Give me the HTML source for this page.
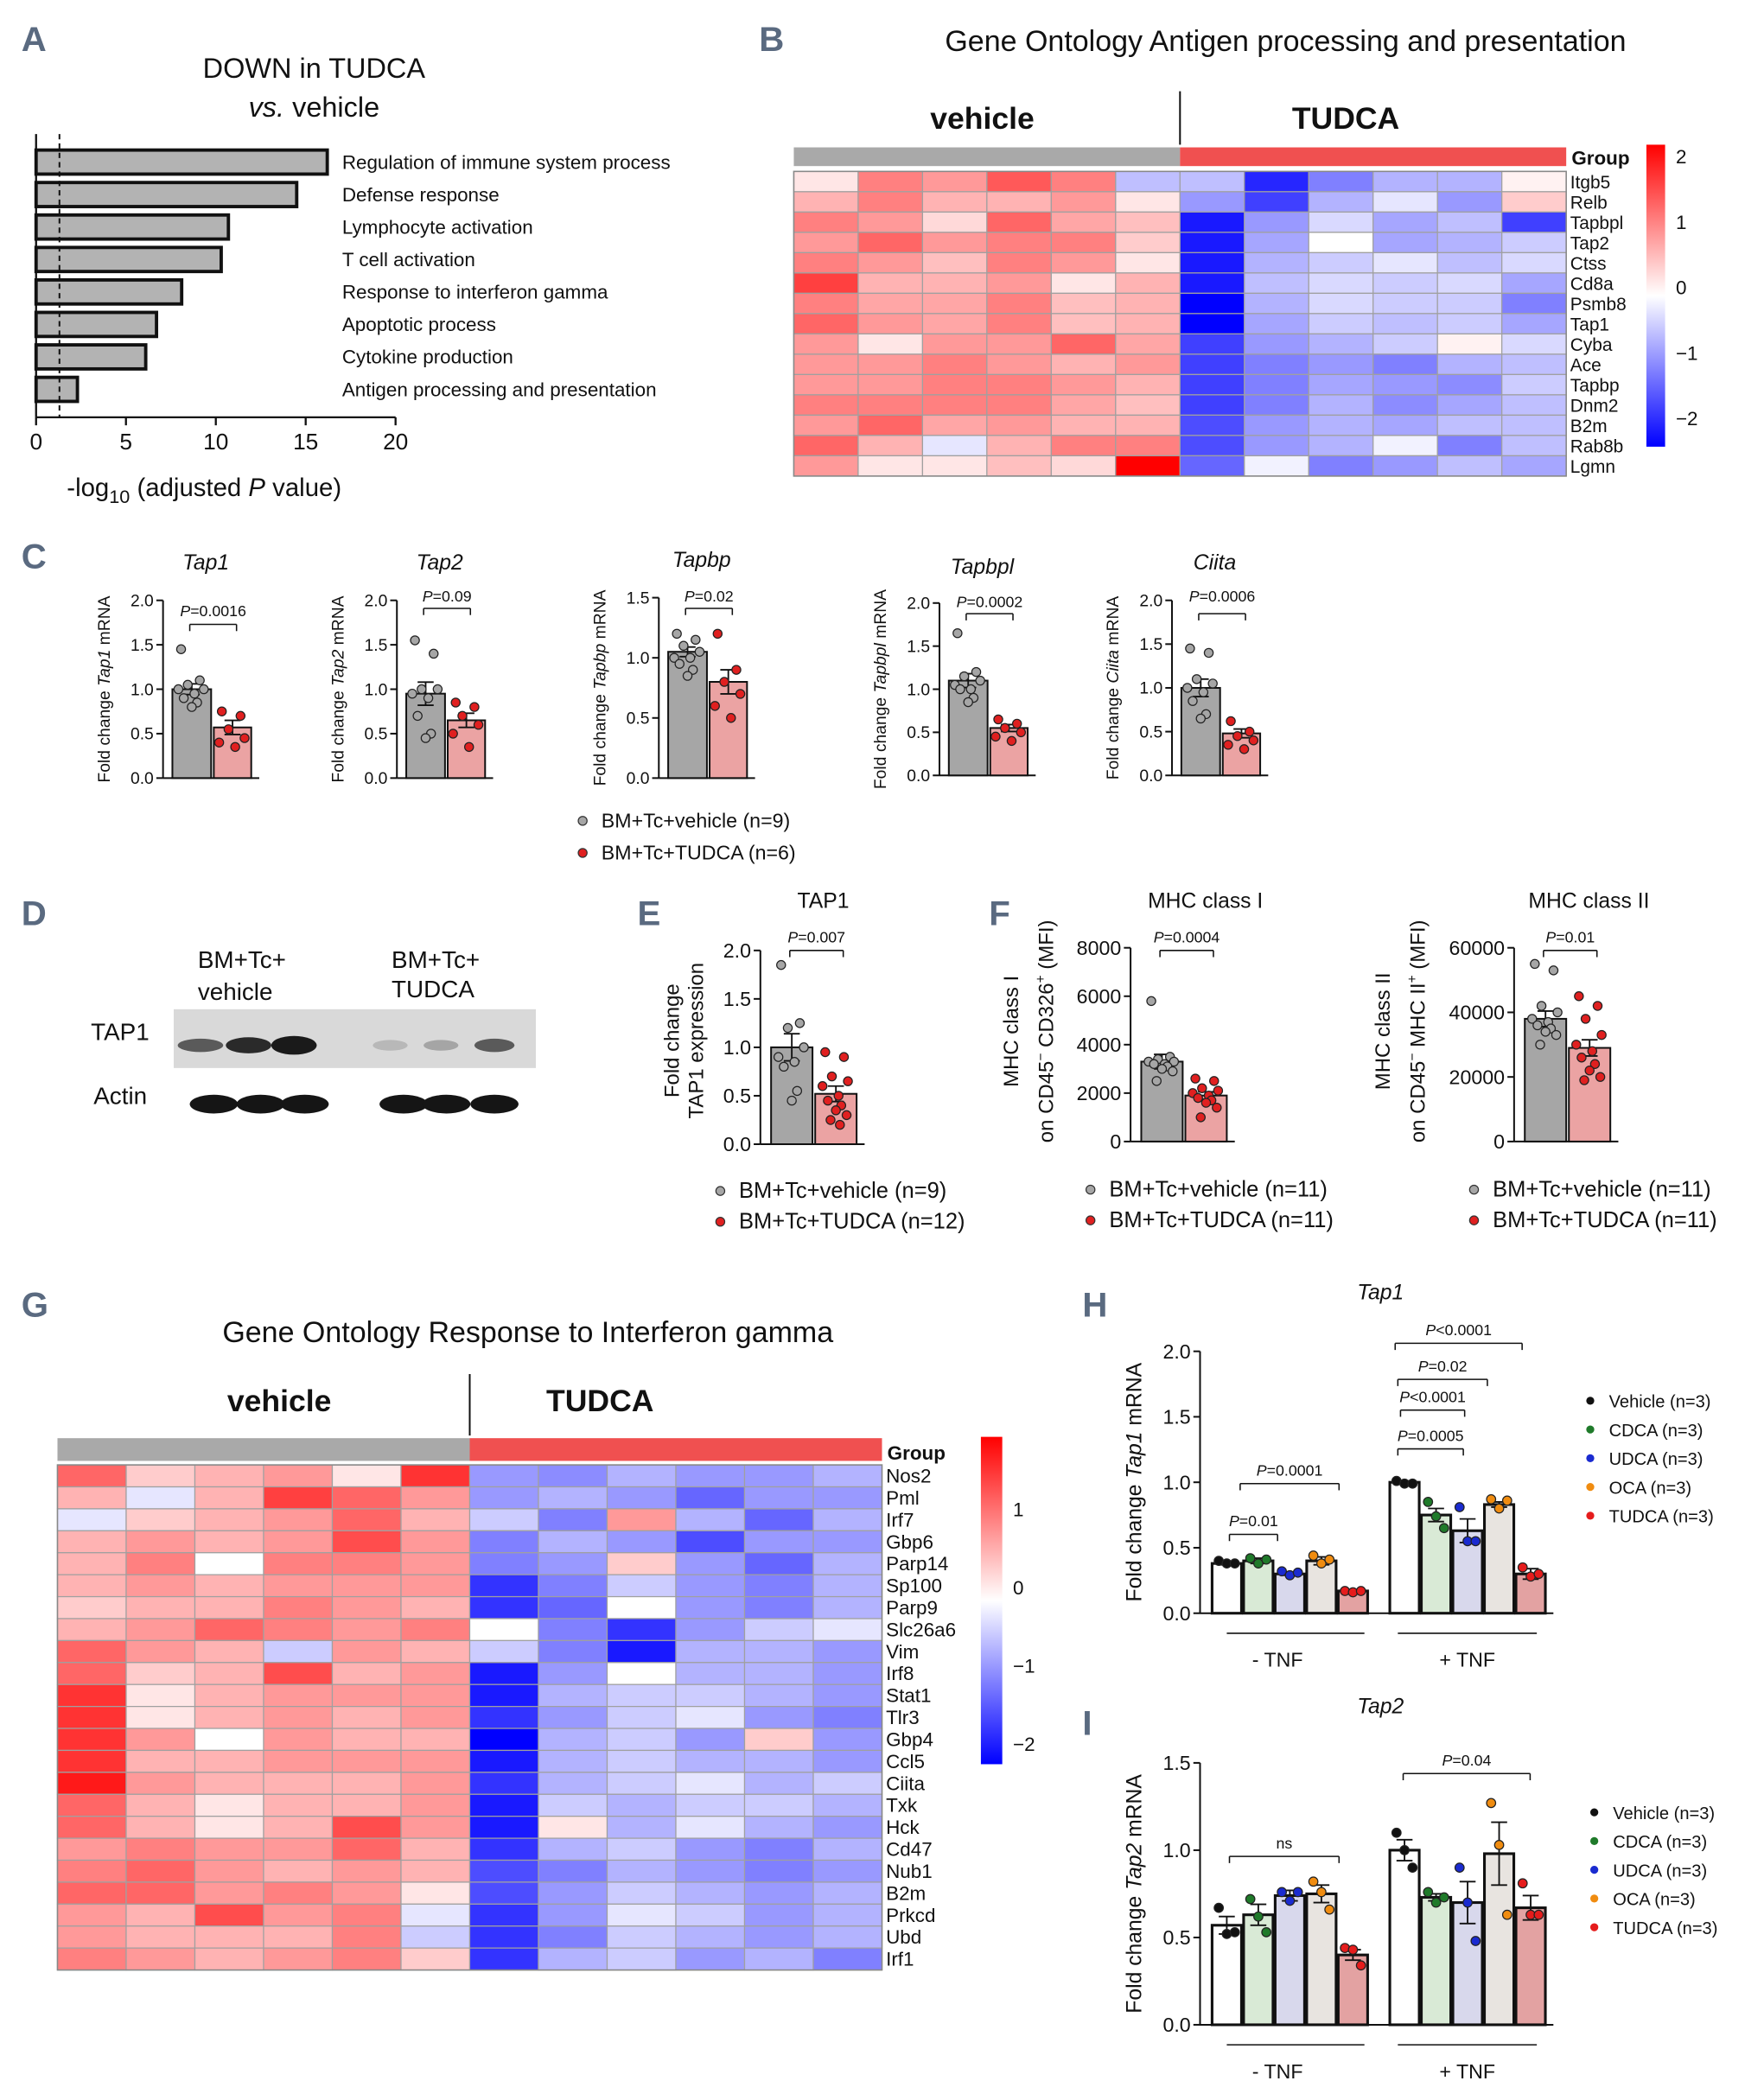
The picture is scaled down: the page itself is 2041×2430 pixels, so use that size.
<!DOCTYPE html>
<html><head><meta charset="utf-8"><title>Figure</title>
<style>
html,body{margin:0;padding:0;background:#fff;}
svg{display:block;font-family:"Liberation Sans",Arial,sans-serif;}
</style></head>
<body>
<svg id="fig" xmlns="http://www.w3.org/2000/svg" width="2041" height="2430" viewBox="0 0 1320 1571">
<rect x="0" y="0" width="1320" height="1571" fill="#fff"/>
</svg>
<script>
// ---------- DATA ----------
const goTerms=["Regulation of immune system process","Defense response","Lymphocyte activation","T cell activation","Response to interferon gamma","Apoptotic process","Cytokine production","Antigen processing and presentation"];
const goValues=[16.2,14.5,10.7,10.3,8.1,6.7,6.1,2.3];
const goTicks=[0,5,10,15,20];
const goThreshold=1.3;

const genesB=["Itgb5","Relb","Tapbpl","Tap2","Ctss","Cd8a","Psmb8","Tap1","Cyba","Ace","Tapbp","Dnm2","B2m","Rab8b","Lgmn"];
const heatB=[
[0.2,1.0,0.8,1.3,1.0,-0.5,-0.5,-1.7,-1.0,-0.6,-0.6,0.1],
[0.6,1.0,0.6,0.6,0.8,0.2,-0.8,-1.5,-0.6,-0.2,-0.8,0.4],
[1.0,0.8,0.3,1.2,0.7,0.5,-1.8,-0.8,-0.3,-0.7,-0.5,-1.5],
[0.8,1.2,0.8,1.0,1.0,0.4,-1.8,-0.7,0.0,-0.7,-0.6,-0.4],
[1.0,0.8,0.5,1.0,0.8,0.2,-1.8,-0.6,-0.4,-0.2,-0.5,-0.3],
[1.5,0.6,0.6,0.8,0.2,0.6,-1.8,-0.5,-0.3,-0.4,-0.3,-0.7],
[1.0,0.7,0.7,1.0,0.5,0.6,-2.0,-0.6,-0.3,-0.4,-0.4,-1.0],
[1.2,0.8,0.7,1.0,0.5,0.6,-2.0,-0.7,-0.4,-0.5,-0.4,-0.7],
[0.8,0.2,0.8,0.8,1.2,0.7,-1.5,-0.8,-0.6,-0.4,0.1,-0.3],
[0.8,0.8,1.0,0.8,0.6,0.8,-1.5,-1.0,-0.8,-1.0,-0.6,-0.5],
[0.8,0.8,1.0,1.0,0.8,0.6,-1.5,-1.0,-0.7,-0.8,-0.9,-0.4],
[1.0,1.0,1.0,1.0,0.7,0.5,-1.5,-1.0,-0.6,-0.9,-0.7,-0.5],
[0.8,1.2,0.7,0.8,0.6,0.6,-1.4,-0.8,-0.6,-0.7,-0.5,-0.5],
[1.2,0.6,-0.2,0.6,1.0,1.0,-1.4,-0.8,-0.6,-0.1,-1.0,-0.5],
[0.8,0.2,0.2,0.5,0.3,2.2,-1.2,-0.1,-1.0,-0.8,-0.5,-0.7]];
const scaleTicksB=[2,1,0,-1,-2];

const genesG=["Nos2","Pml","Irf7","Gbp6","Parp14","Sp100","Parp9","Slc26a6","Vim","Irf8","Stat1","Tlr3","Gbp4","Ccl5","Ciita","Txk","Hck","Cd47","Nub1","B2m","Prkcd","Ubd","Irf1"];
const heatG=[
[1.2,0.4,0.6,0.8,0.2,1.6,-0.8,-0.9,-0.6,-0.8,-0.8,-0.6],
[0.6,-0.2,0.6,1.5,1.2,0.8,-0.8,-0.6,-0.8,-1.2,-0.8,-0.8],
[-0.2,0.4,0.6,0.8,1.2,0.6,-0.4,-1.0,0.8,-0.6,-1.2,-0.6],
[0.6,0.8,0.6,0.8,1.4,0.8,-1.0,-0.6,-0.8,-1.4,-0.8,-0.8],
[0.6,1.0,0.0,1.0,1.0,0.8,-1.0,-0.8,0.4,-0.8,-1.2,-0.6],
[0.6,0.8,0.6,0.8,0.8,0.8,-1.6,-1.0,-0.4,-0.8,-1.0,-0.6],
[0.4,0.6,0.6,1.0,0.8,0.6,-1.6,-1.2,0.0,-0.8,-1.0,-0.6],
[0.6,0.8,1.2,1.0,0.8,1.0,0.0,-1.0,-1.6,-0.8,-0.4,-0.2],
[1.2,0.8,0.6,-0.4,0.8,0.6,-0.4,-1.0,-1.8,-0.6,-0.6,-0.8],
[1.2,0.4,0.6,1.4,0.6,0.8,-1.8,-0.8,0.0,-0.6,-0.6,-0.8],
[1.6,0.2,0.6,0.8,0.8,0.8,-1.8,-0.6,-0.4,-0.4,-0.6,-0.8],
[1.6,0.2,0.6,0.8,0.6,0.8,-1.6,-0.8,-0.4,-0.2,-0.8,-1.0],
[1.6,0.8,0.0,0.8,0.6,0.6,-2.0,-0.6,-0.4,-0.8,0.4,-0.8],
[1.6,0.6,0.6,0.8,0.8,0.8,-1.8,-0.6,-0.4,-0.6,-0.6,-0.8],
[1.8,0.8,0.6,0.6,0.6,0.8,-1.6,-0.6,-0.4,-0.2,-0.6,-0.4],
[1.2,0.6,0.2,0.6,0.6,0.8,-1.8,-0.4,-0.6,-0.4,-0.4,-0.6],
[1.2,0.6,0.2,0.6,1.4,0.8,-1.8,0.2,-0.6,-0.2,-0.6,-0.8],
[0.8,1.0,0.8,0.8,1.2,0.6,-1.6,-0.6,-0.4,-0.8,-1.0,-0.6],
[1.0,1.2,0.8,0.6,0.8,0.6,-1.4,-1.0,-0.6,-0.8,-1.0,-0.8],
[1.2,1.2,0.8,1.0,0.8,0.2,-1.4,-0.8,-0.4,-0.6,-0.8,-0.6],
[0.8,0.6,1.4,0.8,1.0,-0.2,-1.6,-0.8,-0.2,-0.4,-0.8,-0.6],
[0.8,0.6,0.6,0.6,1.0,-0.4,-1.6,-1.0,-0.4,-0.6,-0.8,-0.6],
[1.0,0.8,0.6,0.8,1.0,0.4,-1.6,-0.6,-0.4,-0.8,-0.6,-1.0]];
const scaleTicksG=[1,0,-1,-2];

// Panel C
const cTitles=["Tap1","Tap2","Tapbp","Tapbpl","Ciita"];
const cMeans=[[1.0,0.57],[0.95,0.65],[1.05,0.8],[1.1,0.55],[1.0,0.48]];
const cErrs=[[0.06,0.08],[0.13,0.08],[0.04,0.1],[0.08,0.04],[0.1,0.05]];
const cPvals=["P=0.0016","P=0.09","P=0.02","P=0.0002","P=0.0006"];
const cMax=[2.0,2.0,1.5,2.0,2.0];
const cDotsGray=[[1.45,1.1,1.05,1.0,1.0,0.95,0.9,0.85,0.8],[1.55,1.4,1.0,1.0,0.95,0.9,0.7,0.5,0.45],[1.2,1.15,1.1,1.05,1.0,1.0,0.95,0.9,0.85],[1.65,1.2,1.15,1.1,1.05,1.0,1.0,0.9,0.85],[1.45,1.4,1.1,1.05,1.0,0.95,0.85,0.7,0.65]];
const cDotsRed=[[0.75,0.7,0.55,0.45,0.4,0.35],[0.85,0.8,0.7,0.6,0.5,0.35],[1.2,0.9,0.8,0.7,0.6,0.5],[0.65,0.6,0.55,0.5,0.45,0.4],[0.62,0.5,0.45,0.4,0.35,0.3]];

// Panel E/F
const efTitles=["TAP1","MHC class I","MHC class II"];
const efMeans=[[1.0,0.52],[3300,1900],[38000,29000]];
const efErrs=[[0.14,0.08],[300,150],[2400,2500]];
const efPvals=["P=0.007","P=0.0004","P=0.01"];
const efDotsGray=[[1.85,1.25,1.2,1.0,0.9,0.85,0.8,0.55,0.45],[5800,3500,3400,3300,3300,3200,3200,3100,3000,2900,2500],[55000,53000,42000,40000,38000,37000,36000,35000,34000,33000,30000]];
const efDotsRed=[[0.95,0.9,0.7,0.65,0.6,0.5,0.45,0.4,0.35,0.3,0.25,0.2],[2600,2500,2200,2100,2000,1900,1800,1700,1600,1400,1000],[45000,42000,38000,33000,30000,28000,26000,24000,22000,20000,19000]];
const efTicks=[["0.0","0.5","1.0","1.5","2.0"],["0","2000","4000","6000","8000"],["0","20000","40000","60000"]];
const efTickVals=[[0,0.5,1,1.5,2],[0,2000,4000,6000,8000],[0,20000,40000,60000]];

// Panel H / I
const treatments=["Vehicle (n=3)","CDCA (n=3)","UDCA (n=3)","OCA (n=3)","TUDCA (n=3)"];
const hMinus=[0.38,0.4,0.3,0.4,0.17];
const hPlus=[1.0,0.75,0.63,0.83,0.3];
const hErrMinus=[0.01,0.02,0.01,0.03,0.005];
const hErrPlus=[0.01,0.05,0.09,0.02,0.04];
const hDotsMinus=[[0.4,0.38,0.38],[0.42,0.38,0.41],[0.32,0.29,0.31],[0.44,0.38,0.41],[0.17,0.16,0.17]];
const hDotsPlus=[[1.01,0.99,0.99],[0.85,0.74,0.65],[0.81,0.55,0.55],[0.87,0.8,0.86],[0.35,0.28,0.3]];
const iMinus=[0.57,0.63,0.74,0.75,0.4];
const iPlus=[1.0,0.73,0.7,0.98,0.67];
const iErrMinus=[0.05,0.06,0.03,0.05,0.03];
const iErrPlus=[0.06,0.02,0.12,0.18,0.07];
const iDotsMinus=[[0.67,0.52,0.53],[0.72,0.62,0.53],[0.76,0.71,0.76],[0.82,0.76,0.66],[0.44,0.43,0.34]];
const iDotsPlus=[[1.1,1.0,0.9],[0.76,0.7,0.73],[0.9,0.7,0.48],[1.27,1.03,0.63],[0.81,0.63,0.63]];

// ---------- HELPERS ----------
const NS='http://www.w3.org/2000/svg';
const svg=document.getElementById('fig');
function mk(tag,attrs,parent){const e=document.createElementNS(NS,tag);for(const k in attrs)e.setAttribute(k,attrs[k]);(parent||svg).appendChild(e);return e;}
function T(x,y,s,size,extra,parent){const e=mk('text',Object.assign({x:x,y:y,'font-size':size,fill:'#111'},extra||{}),parent);e.textContent=s;return e;}
function heatColor(v){const t=Math.min(1,Math.abs(v)/2);const c=Math.round(255*(1-t));return v>=0?`rgb(255,${c},${c})`:`rgb(${c},${c},255)`;}
function line(x1,y1,x2,y2,w,parent,col){return mk('line',{x1,y1,x2,y2,stroke:col||'#111','stroke-width':w||1},parent);}
const jit=[-8,6,-3,9,-10,2,-6,4,0,8,-4,3];

// Panel letters
[["A",16,38],["B",568,38],["C",16,425],["D",16,692],["E",477,692],["F",740,692],["G",16,985],["H",810,985],["I",810,1298]].forEach(p=>{
 const t=T(p[1],p[2],p[0],26,{'font-weight':'bold',fill:'#5a6a80'});
 
 
});

// ---------- PANEL A ----------
(function(){
 const g=mk('g',{});
 
 
 const x0=27,pxU=13.45,yTop=100,yBase=312;
 const xs=v=>x0+v*pxU;
 T(235,58,"DOWN in TUDCA",21,{'text-anchor':'middle'},g);
 const t2=T(235,87,"",21,{'text-anchor':'middle'},g);
 t2.innerHTML='<tspan font-style="italic">vs.</tspan> vehicle';
 goValues.forEach((v,i)=>{
  const cy=121+i*24.3;
  const r=mk('rect',{x:x0,y:cy-9,width:xs(v)-x0,height:18,fill:'#b3b3b3',stroke:'#111','stroke-width':2.5},g);
  
  
  const l=T(256,cy+5,goTerms[i],14.5,{},g);
  
  
 });
 line(x0,yTop,x0,yBase,1.5,g);
 line(x0,yBase,xs(20),yBase,1.5,g);
 const d=mk('line',{x1:xs(goThreshold),y1:yTop,x2:xs(goThreshold),y2:yBase,stroke:'#111','stroke-width':1.3,'stroke-dasharray':'4,3'},g);
 
 
 goTicks.forEach(t=>{line(xs(t),yBase,xs(t),yBase+6,1.5,g);const l=T(xs(t),yBase+24,String(t),17,{'text-anchor':'middle'},g);});
 const xl=T(50,371,"",19,{},g);
 xl.innerHTML='-log<tspan font-size="14" dy="5">10</tspan><tspan dy="-5"> (adjusted </tspan><tspan font-style="italic">P</tspan> value)';
 
 
})();

// ---------- HEATMAP ----------
function heatmap(cfg){
 const g=mk('g',{});
 
 
 T(cfg.titleX,cfg.titleY,cfg.title,22,{'text-anchor':'middle'},g);
 const cw=(cfg.x1-cfg.x0)/12, rh=(cfg.y1-cfg.y0)/cfg.genes.length, xm=cfg.x0+6*cw;
 T(cfg.vehX,cfg.labY,"vehicle",23,{'text-anchor':'middle','font-weight':'bold'},g);
 T(cfg.tudX,cfg.labY,"TUDCA",23,{'text-anchor':'middle','font-weight':'bold'},g);
 line(xm,cfg.labY-28,xm,cfg.gy-2,1.3,g);
 const gv=mk('rect',{x:cfg.x0,y:cfg.gy,width:xm-cfg.x0,height:cfg.gh,fill:'#a9a9a9'},g);
 
 
 const gt=mk('rect',{x:xm,y:cfg.gy,width:cfg.x1-xm,height:cfg.gh,fill:'#f05050'},g);
 
 
 T(cfg.x1+4,cfg.gy+cfg.gh-1,"Group",14.5,{'font-weight':'bold'},g);
 cfg.data.forEach((row,r)=>{
  row.forEach((v,c)=>{
   const cell=mk('rect',{x:cfg.x0+c*cw,y:cfg.y0+r*rh,width:cw,height:rh,fill:heatColor(v),stroke:'#a0a0a0','stroke-width':0.8},g);
   
   
  });
  const gl=T(cfg.x1+3,cfg.y0+r*rh+rh/2+5,cfg.genes[r],cfg.fs,{},g);
  
  
 });
 mk('rect',{x:cfg.x0,y:cfg.y0,width:cfg.x1-cfg.x0,height:cfg.y1-cfg.y0,fill:'none',stroke:'#888','stroke-width':1},g);
 const gradId=cfg.name+'-grad';
 const defs=mk('defs',{},g);
 const lg=mk('linearGradient',{id:gradId,x1:0,y1:0,x2:0,y2:1},defs);
 [[0,'#ff0000'],[0.5,'#ffffff'],[1,'#0000ff']].forEach(s=>mk('stop',{offset:s[0],'stop-color':s[1]},lg));
 const sb=mk('rect',{x:cfg.sx,y:cfg.sy0,width:cfg.sw,height:cfg.sy1-cfg.sy0,fill:`url(#${gradId})`},g);
 
 
 cfg.ticks.forEach(t=>{
  const y=cfg.zeroY-t*cfg.unitPx;
  const tl=T(cfg.sx+cfg.sw+8,y+5,t<0?'\u2212'+Math.abs(t):String(t),14.5,{},g);
  
  
 });
}
heatmap({name:'panel-b-heatmap',title:'Gene Ontology Antigen processing and presentation',titleX:962,titleY:38,labY:96,vehX:735,tudX:1007,x0:594,x1:1172,y0:128,y1:356,gy:110,gh:14,genes:genesB,data:heatB,fs:13.5,sx:1232,sw:14,sy0:108,sy1:334,zeroY:215,unitPx:49,ticks:scaleTicksB});
heatmap({name:'panel-g-heatmap',title:'Gene Ontology Response to Interferon gamma',titleX:395,titleY:1004,labY:1056,vehX:209,tudX:449,x0:43,x1:660,y0:1096,y1:1474,gy:1076,gh:17,genes:genesG,data:heatG,fs:14.5,sx:734,sw:16,sy0:1075,sy1:1320,zeroY:1188,unitPx:58.5,ticks:scaleTicksG});

// ---------- DOT BAR CHART ----------
function dotBar(cfg){
 const g=mk('g',{});
 
 
 const ys=v=>cfg.y0-(v/cfg.max)*(cfg.y0-cfg.yTop);
 line(cfg.ax,cfg.yTop,cfg.ax,cfg.y0,1.3,g);
 line(cfg.ax,cfg.y0,cfg.bars[cfg.bars.length-1].x1+6,cfg.y0,1.3,g);
 cfg.tickVals.forEach((tv,i)=>{
  line(cfg.ax-5,ys(tv),cfg.ax,ys(tv),1.3,g);
  const tl=T(cfg.ax-7,ys(tv)+cfg.tfs*0.35,cfg.tickLabels[i],cfg.tfs,{'text-anchor':'end'},g);
  
  
 });
 cfg.bars.forEach((b,bi)=>{
  const r=mk('rect',{x:b.x0,y:ys(b.val),width:b.x1-b.x0,height:cfg.y0-ys(b.val),fill:b.fill,stroke:'#111','stroke-width':cfg.bw||1.3},g);
  
  
  const cx=(b.x0+b.x1)/2;
  line(cx,ys(b.val-b.err),cx,ys(b.val+b.err),1.2,g);
  line(cx-6,ys(b.val+b.err),cx+6,ys(b.val+b.err),1.2,g);
  line(cx-6,ys(b.val-b.err),cx+6,ys(b.val-b.err),1.2,g);
  b.dots.forEach((d,di)=>{
   const jj=cfg.small?[-6,0,6][di%3]:jit[di%jit.length];
   const c=mk('circle',{cx:cx+jj,cy:ys(d),r:cfg.dr||3.3,fill:b.dot,stroke:'#222','stroke-width':0.8},g);
   
   
  });
 });
 (cfg.sigs||[]).forEach(s=>{
  line(s.x0,s.y,s.x1,s.y,1,g);line(s.x0,s.y,s.x0,s.y+5,1,g);line(s.x1,s.y,s.x1,s.y+5,1,g);
  const st=T((s.x0+s.x1)/2,s.ly||s.y-6,'',cfg.pfs||11.5,{'text-anchor':'middle'},g);
  if(s.label.startsWith('P')) st.innerHTML='<tspan font-style="italic">P</tspan>'+s.label.slice(1); else st.textContent=s.label;
  
  
 });
 if(cfg.title){const tt=T(cfg.titleX,cfg.titleY,cfg.title,16,{'text-anchor':'middle','font-style':cfg.titleItalic?'italic':'normal'},g);}
 if(cfg.ylabel){const yl=T(0,0,'',cfg.yfs||12.5,{'text-anchor':'middle',transform:`translate(${cfg.ylx},${(cfg.yTop+cfg.y0)/2}) rotate(-90)`},g);yl.innerHTML=cfg.ylabel;}
 return g;
}

// Panel C
const cAx=[122,297,493,703,877];
const cY0=[582,582,582,580,580];
const cYT=[449,449,447,451,449];
const cSigY=[467,455,455,459,459];
const cSigLY=[461,450,450,454,450];
cTitles.forEach((t,i)=>{
 const ax=cAx[i];
 const tv=cMax[i]===2?[0,0.5,1,1.5,2]:[0,0.5,1,1.5];
 dotBar({name:'panel-c-'+t.toLowerCase(),ax:ax,y0:cY0[i],yTop:cYT[i],max:cMax[i],tickVals:tv,tickLabels:tv.map(v=>v.toFixed(1)),tfs:12.5,
  bars:[{x0:ax+7,x1:ax+36,val:cMeans[i][0],err:cErrs[i][0],fill:'#a6a6a6',dot:'#a6a6a6',dots:cDotsGray[i]},
        {x0:ax+38,x1:ax+66,val:cMeans[i][1],err:cErrs[i][1],fill:'#eba3a3',dot:'#e02020',dots:cDotsRed[i]}],
  sigs:[{x0:ax+20,x1:ax+55,y:cSigY[i],ly:cSigLY[i],label:cPvals[i]}],pfs:11.5,
  title:t,titleX:ax+32,titleY:i===3?429:i===2?424:426,titleItalic:true,
  ylabel:`Fold change <tspan font-style="italic">${t}</tspan> mRNA`,ylx:ax-40,yfs:12.5});
});
function legend2(x,y,a,b,fs,gap,name){
 const g=mk('g',{});
 
 
 mk('circle',{cx:x,cy:y,r:3.3,fill:'#a6a6a6',stroke:'#333','stroke-width':0.8},g);
 T(x+14,y+5,a,fs,{},g);
 mk('circle',{cx:x,cy:y+gap,r:3.3,fill:'#e02020',stroke:'#333','stroke-width':0.8},g);
 T(x+14,y+gap+5,b,fs,{},g);
}
legend2(436,614,"BM+Tc+vehicle (n=9)","BM+Tc+TUDCA (n=6)",15,24,'panel-c-legend');

// Panel D (western blot)
(function(){
 const g=mk('g',{});
 
 
 T(148,724,"BM+Tc+",18,{},g);T(148,748,"vehicle",18,{},g);
 T(293,724,"BM+Tc+",18,{},g);T(293,746,"TUDCA",18,{},g);
 T(68,778,"TAP1",18,{},g);T(70,826,"Actin",18,{},g);
 const bg=mk('rect',{x:130,y:755,width:271,height:44,fill:'#d9d9d9'},g);
 
 
 [[150,34,5,'#5a5a5a'],[186,34,6,'#2a2a2a'],[220,34,7,'#1a1a1a'],[292,26,4,'#b8b8b8'],[330,26,4,'#a5a5a5'],[370,30,5,'#5a5a5a']].forEach(b=>{
  const e=mk('ellipse',{cx:b[0],cy:782,rx:b[1]/2,ry:b[2],fill:b[3]},g);
  
  
 });
 [160,195,228,302,334,370].forEach(x=>{
  const e=mk('ellipse',{cx:x,cy:826,rx:18,ry:7,fill:'#151515'},g);
  
  
 });
})();

// Panel E/F
const efAx=[569,846,1133];
const efY0=[856,854,854];
const efYT=[711,709,709];
const efMax=[2,8000,60000];
const efYlab=[
 ['Fold change','TAP1 expression'],
 ['MHC class  I','on CD45<tspan font-size="10" dy="-6">\u2212</tspan><tspan dy="6"> CD326</tspan><tspan font-size="10" dy="-6">+</tspan><tspan dy="6"> (MFI)</tspan>'],
 ['MHC class  II','on CD45<tspan font-size="10" dy="-6">\u2212</tspan><tspan dy="6"> MHC II</tspan><tspan font-size="10" dy="-6">+</tspan><tspan dy="6"> (MFI)</tspan>']];
const efYlx=[[508,526],[762,788],[1040,1066]];
efTitles.forEach((t,i)=>{
 const ax=efAx[i];
 dotBar({name:'panel-'+(i===0?'e':'f')+'-'+t.toLowerCase().replace(/ /g,'-'),ax:ax,y0:efY0[i],yTop:efYT[i],max:efMax[i],tickVals:efTickVals[i],tickLabels:efTicks[i],tfs:15,
  bars:[{x0:ax+8,x1:ax+39,val:efMeans[i][0],err:efErrs[i][0],fill:'#a6a6a6',dot:'#a6a6a6',dots:efDotsGray[i]},
        {x0:ax+41,x1:ax+72,val:efMeans[i][1],err:efErrs[i][1],fill:'#eba3a3',dot:'#e02020',dots:efDotsRed[i]}],
  sigs:[{x0:ax+22,x1:ax+62,y:711,label:efPvals[i]}],pfs:11.5,
  title:t,titleX:ax+(i===0?47:56),titleY:679,titleItalic:false});
 efYlab[i].forEach((lab,k)=>{
  const yl=T(0,0,'',15.5,{'text-anchor':'middle',transform:`translate(${efYlx[i][k]},${(efYT[i]+efY0[i])/2+(i===0?-5:-10)}) rotate(-90)`});
  yl.innerHTML=lab;
  
  
 });
});
legend2(539,891,"BM+Tc+vehicle (n=9)","BM+Tc+TUDCA (n=12)",16.5,23,'panel-e-legend');
legend2(816,890,"BM+Tc+vehicle (n=11)","BM+Tc+TUDCA (n=11)",16.5,23,'panel-f-mhc1-legend');
legend2(1103,890,"BM+Tc+vehicle (n=11)","BM+Tc+TUDCA (n=11)",16.5,23,'panel-f-mhc2-legend');

// Panel H / I
const hFills=['#ffffff','#d9ead6','#d8d8ec','#e8e4e0','#e3a2a2'];
const hDotC=['#111','#1f7a2a','#1a2bd0','#f08c10','#e51c1c'];
function groupPanel(name,title,ax,y0,yTop,max,ticks,minus,plus,eM,eP,dM,dP,sigs,titleY,lx){
 const bars=[];
 for(let k=0;k<5;k++) bars.push({x0:ax+9+k*23.6,x1:ax+9+k*23.6+22,val:minus[k],err:eM[k],fill:hFills[k],dot:hDotC[k],dots:dM[k]});
 for(let k=0;k<5;k++) bars.push({x0:ax+142+k*23.6,x1:ax+142+k*23.6+22,val:plus[k],err:eP[k],fill:hFills[k],dot:hDotC[k],dots:dP[k]});
 const g=dotBar({name:name,ax:ax,y0:y0,yTop:yTop,max:max,tickVals:ticks,tickLabels:ticks.map(v=>v.toFixed(1)),tfs:15,bars:bars,bw:2,small:true,dr:3.4,
  sigs:sigs,pfs:11.5,title:title,titleX:ax+135,titleY:titleY,titleItalic:true,
  ylabel:`Fold change <tspan font-style="italic">${title}</tspan> mRNA`,ylx:ax-44,yfs:16});
 line(ax+20,y0+15,ax+123,y0+15,1,g);line(ax+148,y0+15,ax+252,y0+15,1,g);
 T(ax+58,y0+40,"- TNF",15,{'text-anchor':'middle'},g);T(ax+200,y0+40,"+ TNF",15,{'text-anchor':'middle'},g);
 treatments.forEach((t,k)=>{
  const c=mk('circle',{cx:lx,cy:yTop+37+k*21.5,r:3,fill:hDotC[k]},g);
  
  
  const lt=T(lx+14,yTop+42+k*21.5,t,13,{},g);
  
  
 });
}
groupPanel('panel-h-tap1','Tap1',898,1207,1011,2,[0,0.5,1,1.5,2],hMinus,hPlus,hErrMinus,hErrPlus,hDotsMinus,hDotsPlus,
 [{x0:920,x1:956,y:1148,label:'P=0.01'},{x0:928,x1:1002,y:1110,label:'P=0.0001'},{x0:1046,x1:1095,y:1084,label:'P=0.0005'},{x0:1048,x1:1096,y:1055,label:'P<0.0001'},{x0:1046,x1:1113,y:1032,label:'P=0.02'},{x0:1044,x1:1139,y:1005,label:'P<0.0001'}],972,1190);
groupPanel('panel-i-tap2','Tap2',898,1515,1319,1.5,[0,0.5,1,1.5],iMinus,iPlus,iErrMinus,iErrPlus,iDotsMinus,iDotsPlus,
 [{x0:920,x1:1002,y:1389,label:'ns'},{x0:1050,x1:1145,y:1327,label:'P=0.04'}],1282,1193);
</script>
</body></html>
